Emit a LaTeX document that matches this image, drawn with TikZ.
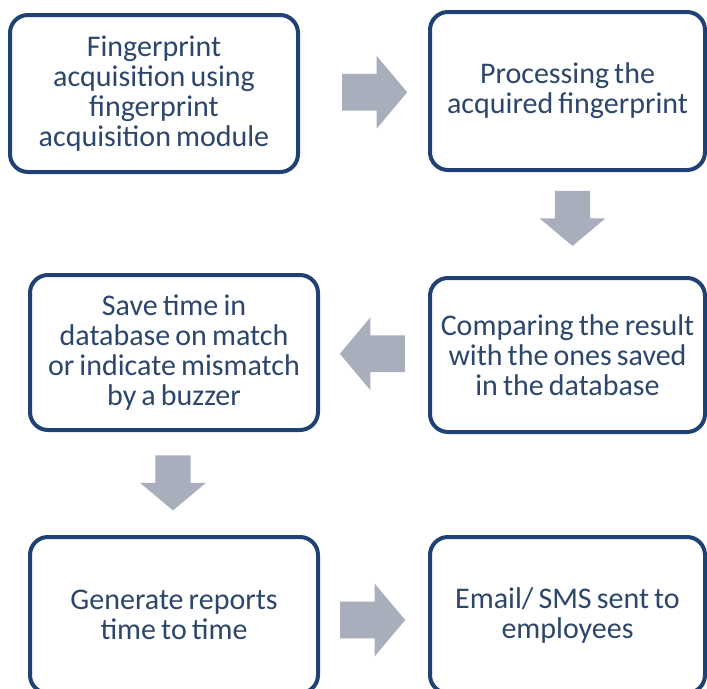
\documentclass[tikz,border=0pt]{standalone}
\usepackage{fontspec}
\setmainfont{Carlito}
\usetikzlibrary{shapes,arrows,positioning,calc}
\definecolor{boxblue}{RGB}{31,65,115}
\definecolor{textblue}{RGB}{44,70,108}
\definecolor{arrowgray}{RGB}{168,174,188}
\newcommand{\boxfont}{\fontsize{22.5}{22.5}\selectfont\spaceskip=0.17em plus 0.05em\relax}

\begin{document}
\begin{tikzpicture}[x=0.75pt,y=-0.75pt,
  stepbox/.style={draw=boxblue, line width=3pt, rounded corners=13.5pt, fill=white,
    align=center, text=textblue, inner sep=0pt, font=\boxfont},
  blockarrow/.style={single arrow, fill=arrowgray, draw=none, inner xsep=0pt,
    single arrow tip angle=100},
  harrow/.style={blockarrow, minimum height=48.75pt, inner ysep=13.5pt,
    single arrow head extend=13.5pt},
  varrow/.style={blockarrow, minimum height=41.25pt, inner ysep=13.1pt,
    single arrow head extend=11.25pt, rotate=-90}]
\clip (0,0) rectangle (707,689);
\fill [white] (0,0) rectangle (707,689);
% boxes
\node [stepbox, minimum width=216pt, minimum height=117.75pt] (fp) at (154,93.5)
  {Fingerprint\\acquisition using\\fingerprint\\acquisition module};
\node [stepbox, minimum width=206.25pt, minimum height=118.5pt] (proc) at (567.5,91)
  {Processing the\\acquired fingerprint};
\node [stepbox, minimum width=206.25pt, minimum height=115.5pt] (cmp) at (567.5,355)
  {Comparing the result\\with the ones saved\\in the database};
\node [stepbox, minimum width=216pt, minimum height=116.25pt] (save) at (174,352.5)
  {Save time in\\database on match\\or indicate mismatch\\by a buzzer};
\node [stepbox, minimum width=216pt, minimum height=117pt] (gen) at (174,615)
  {Generate reports\\time to time};
\node [stepbox, minimum width=206.25pt, minimum height=117pt] (mail) at (567.5,615)
  {Email/ SMS sent to\\employees};
% arrows
\node [harrow] (a1) at ($(fp.east)!0.5!(proc.west)+(3,0)$) {};
\node [varrow] (a2) at ($(proc.south)!0.5!(cmp.north)+(5,-13)$) {};
\node [harrow, rotate=180] (a3) at ($(save.east)!0.5!(cmp.west)+(6,0)$) {};
\node [varrow] (a4) at ($(save.south)!0.5!(gen.north)+(-1,-8)$) {};
\node [harrow] (a5) at ($(gen.east)!0.5!(mail.west)+(-9,5)$) {};
\end{tikzpicture}
\end{document}
